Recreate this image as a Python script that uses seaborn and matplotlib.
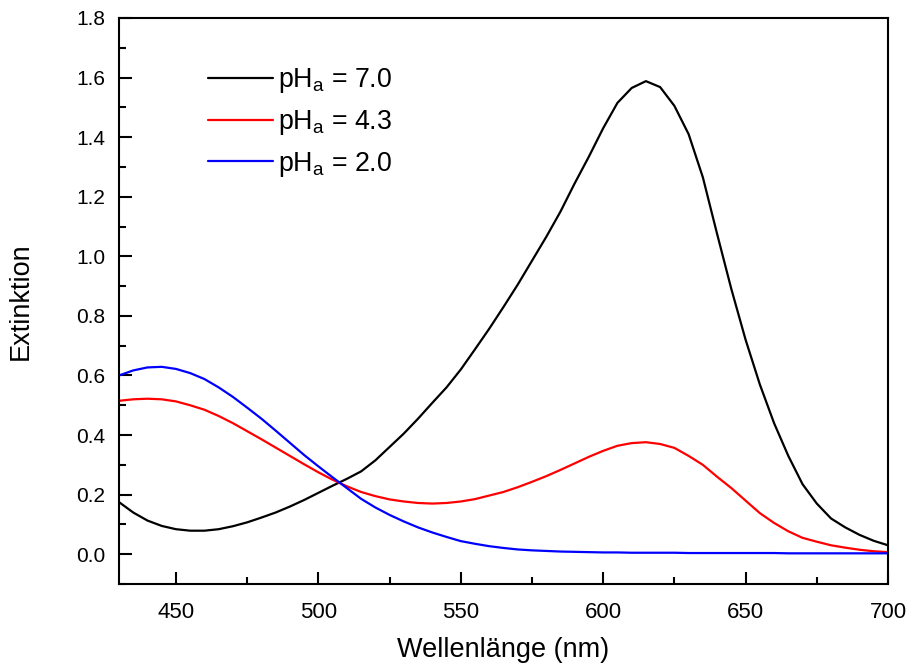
import numpy as np
import pandas as pd
import seaborn as sns
import matplotlib.pyplot as plt
from matplotlib.ticker import MultipleLocator

# Wellenlaenge (nm), 5 nm Schritte
wellenlaenge = np.arange(430, 701, 5)

ext_ph70 = [0.175, 0.140, 0.113, 0.095, 0.084, 0.079, 0.079, 0.084, 0.094, 0.107,
            0.123, 0.140, 0.160, 0.182, 0.206, 0.230, 0.253, 0.278, 0.315, 0.360,
            0.405, 0.455, 0.508, 0.560, 0.620, 0.688, 0.757, 0.830, 0.905, 0.985,
            1.065, 1.150, 1.245, 1.335, 1.430, 1.515, 1.565, 1.588, 1.568, 1.505,
            1.410, 1.265, 1.075, 0.890, 0.720, 0.570, 0.440, 0.330, 0.235, 0.170,
            0.120, 0.090, 0.065, 0.045, 0.030]

ext_ph43 = [0.515, 0.520, 0.522, 0.520, 0.513, 0.500, 0.485, 0.464, 0.440, 0.413,
            0.386, 0.358, 0.330, 0.302, 0.275, 0.250, 0.228, 0.209, 0.195, 0.184,
            0.177, 0.172, 0.170, 0.172, 0.177, 0.185, 0.197, 0.209, 0.225, 0.243,
            0.262, 0.283, 0.305, 0.327, 0.347, 0.364, 0.373, 0.376, 0.370, 0.357,
            0.330, 0.300, 0.260, 0.222, 0.180, 0.138, 0.105, 0.077, 0.055, 0.042,
            0.030, 0.022, 0.015, 0.010, 0.007]

ext_ph20 = [0.600, 0.617, 0.627, 0.629, 0.622, 0.608, 0.588, 0.560, 0.528, 0.492,
            0.455, 0.415, 0.374, 0.333, 0.295, 0.258, 0.222, 0.186, 0.157, 0.132,
            0.110, 0.090, 0.073, 0.058, 0.044, 0.035, 0.027, 0.021, 0.016, 0.013,
            0.011, 0.009, 0.008, 0.007, 0.006, 0.006, 0.005, 0.005, 0.005, 0.005,
            0.004, 0.004, 0.004, 0.004, 0.004, 0.004, 0.004, 0.003, 0.003, 0.003,
            0.003, 0.003, 0.003, 0.003, 0.003]

labels = ['pH$_a$ = 7.0', 'pH$_a$ = 4.3', 'pH$_a$ = 2.0']
farben = ['black', '#ff0000', '#0000ff']

df = pd.DataFrame({
    'Wellenlaenge': np.tile(wellenlaenge, 3),
    'Extinktion': ext_ph70 + ext_ph43 + ext_ph20,
    'pH': np.repeat(labels, len(wellenlaenge)),
})

sns.set_style('ticks')
plt.rcParams['font.family'] = ['Liberation Sans', 'DejaVu Sans']
plt.rcParams['mathtext.default'] = 'regular'
plt.rcParams['text.color'] = 'black'
plt.rcParams['axes.labelcolor'] = 'black'
plt.rcParams['xtick.color'] = 'black'
plt.rcParams['ytick.color'] = 'black'
plt.rcParams['axes.edgecolor'] = 'black'

fig = plt.figure(figsize=(9.09, 6.66), dpi=100)
ax = fig.add_axes([0.1309, 0.1231, 0.846, 0.8499])

sns.lineplot(data=df, x='Wellenlaenge', y='Extinktion', hue='pH',
             palette=farben, hue_order=labels, linewidth=1.6, ax=ax)

ax.set_xlim(430, 700)
ax.set_ylim(-0.1, 1.8)
ax.xaxis.set_major_locator(MultipleLocator(50))
ax.xaxis.set_minor_locator(MultipleLocator(25))
ax.yaxis.set_major_locator(MultipleLocator(0.2))
ax.yaxis.set_minor_locator(MultipleLocator(0.1))
ax.yaxis.set_major_formatter(plt.FormatStrFormatter('%.1f'))

ax.tick_params(which='major', direction='in', length=9, width=1.5)
ax.tick_params(which='minor', direction='in', length=5, width=1.5)
ax.tick_params(axis='x', which='major', pad=13, labelsize=16)
ax.tick_params(axis='y', which='major', pad=10, labelsize=15)
ax.tick_params(top=False, right=False, which='both')
for s in ax.spines.values():
    s.set_visible(True)
    s.set_linewidth(1.5)

ax.set_xlabel('Wellenlänge (nm)', fontsize=19.5, labelpad=10)
ax.set_ylabel('Extinktion', fontsize=19.5, labelpad=30)

leg = ax.legend(loc='upper left', bbox_to_anchor=(0.085, 0.957), frameon=False,
                fontsize=19.3, handlelength=2.4, handletextpad=0.2, labelspacing=0.47)
for line in leg.get_lines():
    line.set_linewidth(1.6)

fig.savefig('out.png', dpi=100)
